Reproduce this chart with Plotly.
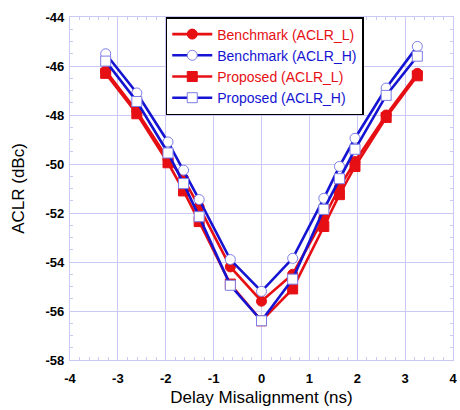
import plotly.graph_objects as go

# Delay misalignment (ns) and measured ACLR (dBc) for each configuration
delay_ns = [-3.255, -2.604, -1.953, -1.628, -1.302, -0.651, 0.0,
            0.651, 1.302, 1.628, 1.953, 2.604, 3.255]
bench_aclr_l = [-46.2, -47.85, -49.8, -50.6, -51.75, -54.2, -55.6,
                -54.5, -52.2, -50.95, -49.9, -48.0, -46.3]
bench_aclr_h = [-45.5, -47.1, -49.1, -50.25, -51.45, -53.9, -55.2,
                -53.85, -51.4, -50.1, -48.95, -46.9, -45.2]
prop_aclr_l = [-46.3, -47.95, -49.95, -51.1, -52.35, -54.9, -56.4,
               -55.1, -52.55, -51.25, -50.1, -48.1, -46.4]
prop_aclr_h = [-45.8, -47.45, -49.55, -50.8, -52.15, -54.95, -56.4,
               -54.7, -51.85, -50.6, -49.4, -47.2, -45.6]

x_ticks = [-4, -3, -2, -1, 0, 1, 2, 3, 4]
y_ticks = [-58, -56, -54, -52, -50, -48, -46, -44]

RED = "#e60f14"
BLUE = "#1414d2"
OUTLINE = "#7d7de6"
GRID = "#c9c9f4"
FONT = "Liberation Sans, Arial"

series = [
    ("Benchmark (ACLR_L)", bench_aclr_l, RED, "circle", RED, RED, 10),
    ("Benchmark (ACLR_H)", bench_aclr_h, BLUE, "circle", "white", OUTLINE, 10),
    ("Proposed (ACLR_L)", prop_aclr_l, RED, "square", RED, RED, 10),
    ("Proposed (ACLR_H)", prop_aclr_h, BLUE, "square", "white", OUTLINE, 10),
]

fig = go.Figure()
for name, values, color, symbol, fill, edge, size in series:
    fig.add_trace(go.Scatter(
        x=delay_ns, y=values, mode="lines+markers",
        name=f"<span style='color:{color}'>{name}</span>",
        line=dict(color=color, width=2.6),
        marker=dict(symbol=symbol, size=size, color=fill,
                    line=dict(color=edge, width=1)),
    ))

axis_common = dict(
    showline=True, linecolor=GRID, linewidth=1.2, mirror="allticks",
    showgrid=True, gridcolor=GRID, gridwidth=1,
    ticks="inside", ticklen=4, tickcolor=GRID,
    zeroline=False, ticklabeloverflow="allow",
    tickfont=dict(family=FONT, size=13, color="black"),
)

fig.update_xaxes(
    range=[-4, 4], tickmode="array", tickvals=x_ticks,
    ticktext=[f"<b>{v}</b>" for v in x_ticks],
    ticklabelstandoff=6,
    minor=dict(ticks="inside", dtick=0.2, ticklen=3, tickcolor=GRID,
               showgrid=False),
    title=dict(text="Delay Misalignment (ns)", standoff=6,
               font=dict(family=FONT, size=17, color="black")),
    **axis_common,
)
fig.update_yaxes(
    range=[-58, -44], tickmode="array", tickvals=y_ticks,
    ticktext=[f"<b>{v}</b>" for v in y_ticks],
    ticklabelstandoff=2,
    minor=dict(ticks="inside", dtick=0.5, ticklen=3, tickcolor=GRID,
               showgrid=False),
    title=dict(text="ACLR (dBc)", standoff=16,
               font=dict(family=FONT, size=17, color="black")),
    **axis_common,
)

fig.update_layout(
    width=460, height=410,
    margin=dict(l=70, r=3, t=17, b=50),
    paper_bgcolor="white", plot_bgcolor="white",
    font=dict(family=FONT),
    showlegend=True,
    legend=dict(
        x=0.25, y=1.0, xanchor="left", yanchor="top",
        bgcolor="white", bordercolor="black", borderwidth=1.5,
        font=dict(family=FONT, size=14),
        tracegroupgap=0, itemwidth=40,
    ),
)

fig.write_html("out.html")
